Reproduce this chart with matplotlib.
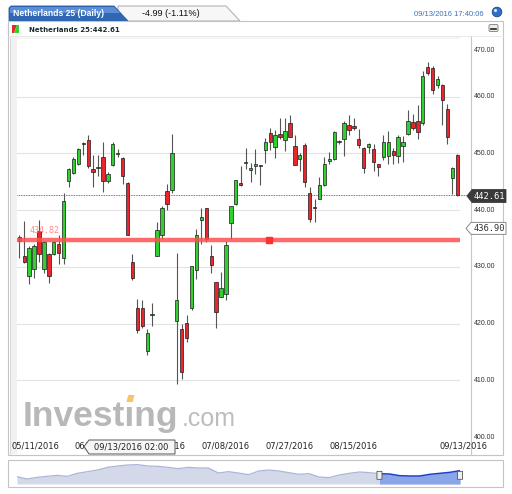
import numpy as np
import pandas as pd
import matplotlib.pyplot as plt
from matplotlib.patches import Polygon, Rectangle, FancyBboxPatch, Circle

# Netherlands 25 daily candles
dates = pd.bdate_range("2016-05-11", "2016-09-13")
opens = [435.3, 432.0, 428.4, 429.7, 436.3, 429.6, 432.2, 432.3, 434.1, 431.6,
         445.1, 446.6, 448.2, 451.7, 452.4, 447.2, 447.4, 449.4, 445.1, 447.9,
         449.9, 449.2, 444.7, 430.8, 422.7, 422.7, 415.1, 421.5, 432.0, 435.7,
         443.3, 443.6, 420.5, 419.1, 420.1, 422.7, 429.5, 438.2, 440.3, 431.9,
         427.3, 424.6, 425.3, 437.8, 441.0, 444.7, 448.3, 447.1, 447.7, 447.8,
         450.6, 453.6, 451.2, 453.5, 452.3, 455.3, 451.3, 449.1, 451.5, 443.1,
         440.6, 442.0, 444.4, 448.6, 449.1, 452.0, 452.6, 455.1, 454.9, 452.6,
         451.0, 451.2, 450.8, 448.1, 449.3, 449.6, 450.4, 449.5, 451.3, 453.5,
         455.5, 455.7, 455.3, 465.2, 465.0, 462.0, 462.0, 457.9, 445.7, 449.8]
highs = [435.6, 438.0, 433.7, 434.0, 438.3, 434.6, 432.5, 434.5, 435.6, 443.0,
         447.5, 449.3, 451.0, 452.0, 453.2, 449.7, 449.8, 452.0, 446.8, 452.0,
         450.7, 449.4, 444.9, 432.2, 424.4, 424.1, 419.0, 423.7, 437.9, 440.7,
         444.6, 453.4, 432.5, 419.9, 421.5, 430.2, 436.6, 440.3, 440.4, 433.9,
         427.4, 429.1, 434.6, 440.8, 445.4, 447.8, 451.0, 448.4, 450.7, 448.0,
         452.8, 454.5, 454.2, 456.3, 456.3, 456.75, 453.3, 450.1, 451.8, 444.1,
         441.9, 445.8, 449.4, 450.3, 453.9, 452.4, 455.7, 456.75, 456.3, 454.3,
         451.2, 451.9, 451.6, 448.2, 453.3, 454.0, 450.9, 453.3, 453.0, 457.7,
         456.9, 458.6, 464.6, 466.1, 465.4, 463.6, 462.3, 458.7, 447.6, 449.9]
lows = [431.5, 430.6, 427.0, 428.1, 430.8, 429.0, 427.1, 432.1, 430.5, 430.5,
        444.1, 446.3, 448.0, 449.8, 447.5, 444.1, 446.0, 443.2, 444.8, 447.8,
        449.3, 444.6, 435.6, 427.6, 418.4, 419.3, 414.4, 419.6, 431.9, 435.0,
        440.0, 443.1, 409.3, 410.2, 416.8, 422.4, 427.8, 434.0, 434.3, 428.9,
        419.3, 424.6, 424.2, 435.0, 440.9, 444.3, 447.2, 445.0, 446.3, 444.4,
        448.4, 450.6, 449.2, 452.5, 450.4, 452.9, 447.9, 446.9, 444.1, 437.9,
        437.9, 441.9, 444.2, 448.1, 448.9, 451.6, 449.6, 453.3, 454.2, 450.9,
        446.5, 450.1, 446.9, 446.0, 448.8, 448.1, 448.1, 448.3, 448.5, 453.2,
        454.2, 452.6, 455.0, 463.8, 460.5, 461.6, 455.1, 451.6, 442.9, 442.5]
closes = [434.6, 430.8, 433.4, 433.7, 432.3, 434.4, 428.3, 434.3, 432.5, 441.6,
          447.2, 449.1, 450.8, 451.9, 447.8, 446.7, 447.6, 445.1, 446.4, 451.6,
          450.1, 446.0, 435.7, 428.1, 418.9, 419.5, 418.4, 421.7, 436.5, 440.3,
          441.1, 450.0, 424.1, 411.5, 417.4, 430.1, 435.7, 438.8, 434.9, 430.3,
          422.1, 426.3, 433.8, 440.8, 445.3, 444.4, 448.4, 447.5, 448.2, 447.7,
          452.1, 452.1, 453.3, 452.9, 453.9, 452.9, 447.9, 449.7, 444.9, 438.5,
          440.3, 444.4, 448.1, 449.1, 453.8, 452.0, 455.4, 454.1, 454.5, 451.5,
          447.5, 451.7, 448.5, 447.6, 452.0, 452.0, 449.8, 452.9, 452.0, 455.8,
          454.4, 453.8, 463.6, 464.1, 461.1, 463.2, 459.5, 452.9, 447.5, 442.61]

last_price = 442.61
line_level = 434.82
line_tag = 436.90
price_ticks = [400, 410, 420, 430, 440, 450, 460, 470]
date_labels = ["05/11/2016", "06/02/2016", "06/21/2016", "07/08/2016",
               "07/27/2016", "08/15/2016", "09/13/2016"]

# navigator thumbnail levels (relative height), left to right
nav_values = [10, 3, 8, 11, 14, 11, 20, 25, 30, 38, 42, 45, 46, 42, 41, 38, 34,
              38, 36, 36, 21, 25, 21, 16, 27, 30, 27, 22, 17, 19, 9, 7, 15, 20,
              24, 22, 19, 18, 13, 12, 12, 17, 20, 23, 28]
nav_selected_from = 36

W, H = 512, 494
def fx(x):
    return x / W
def fy(y):
    return 1 - y / H

fig = plt.figure(figsize=(W / 100, H / 100), dpi=100)
fig.patch.set_facecolor("white")

# ---- background / frame in pixel coordinates
bg = fig.add_axes([0, 0, 1, 1])
bg.set_xlim(0, W)
bg.set_ylim(H, 0)
bg.axis("off")

# tabs
bg.add_patch(Polygon([(118, 21), (118, 6), (226, 6), (240, 21)], closed=True,
                     facecolor="#f7f7f7", edgecolor="#b4b4b4", lw=0.8))
bg.add_patch(Polygon([(9, 21), (9, 8), (11, 6), (114, 6), (128, 21)], closed=True,
                     facecolor="#2f67b5", edgecolor="#2a5a9e", lw=0.6))
bg.add_patch(Polygon([(10, 13), (10, 8), (11, 7), (114, 7), (120, 13)], closed=True,
                     facecolor="#5b8ed4", edgecolor="none"))
bg.text(13, 14, "Netherlands 25 (Daily)", color="white", fontsize=6.2,
        fontweight="bold", family="Liberation Sans", va="center", ha="left")
bg.text(142, 14, "-4.99 (-1.11%)", color="#111111", fontsize=6.6,
        family="Liberation Sans", va="center", ha="left")
bg.text(484, 14, "09/13/2016 17:40:06", color="#3f72b8", fontsize=5.5,
        family="Liberation Sans", va="center", ha="right")
bg.add_patch(Circle((497, 12), 4.8, facecolor="#2f6fc8", edgecolor="#1c4a8c", lw=0.6))
bg.add_patch(Circle((495.5, 10.5), 1.6, facecolor="#cfe0f8", edgecolor="none"))

# main panel
bg.add_patch(Rectangle((8, 21), 495, 434, facecolor="white", edgecolor="#c4c4c4", lw=0.8))
bg.add_patch(Rectangle((10, 36), 7, 418, facecolor="#f1f1f1", edgecolor="none"))
bg.plot([10, 10], [36, 454], color="#d6d6d6", lw=0.6)
bg.add_patch(Rectangle((17, 36), 443, 3, facecolor="#f5f5f5", edgecolor="none"))
bg.plot([471, 471], [36, 455], color="#c8c8c8", lw=0.8)
bg.plot([10, 503], [36, 36], color="#e6e6e6", lw=0.6)

# header row
bg.add_patch(Polygon([(12, 25), (17, 25), (14, 33), (12, 33)], closed=True,
                     facecolor="#e8262b", edgecolor="none"))
bg.add_patch(Polygon([(17, 25), (19, 25), (19, 33), (14, 33)], closed=True,
                     facecolor="#2fd12f", edgecolor="none"))
bg.text(29, 29.5, "Netherlands 25:442.61", color="#1c2b2b", fontsize=5,
        fontweight="bold", family="DejaVu Sans", va="center", ha="left")
bg.add_patch(FancyBboxPatch((489, 24.5), 9, 7, boxstyle="round,pad=0,rounding_size=1.5",
                            facecolor="#ececec", edgecolor="#7a7a7a", lw=0.6))
bg.plot([491, 496], [29.5, 29.5], color="#222222", lw=1.2)

# watermark (dotless i, the dot is the orange accent)
wm_font = dict(fontsize=25.5, fontweight="bold", family="Liberation Sans",
               va="baseline", ha="left")
bg.text(22.5, 426, "Invest\u0131ng", color="#b8b8b8", **wm_font)
bg.text(182, 426, ".com", color="#bdbdbd", fontsize=18,
        family="Liberation Sans", va="baseline", ha="left")
renderer = fig.canvas.get_renderer()
probe = bg.text(22.5, 426, "Invest", alpha=0, **wm_font)
bb = probe.get_window_extent(renderer)
xi = bg.transData.inverted().transform((bb.x1, bb.y0))[0]
probe.remove()
bg.add_patch(Polygon([(xi + 1.5, 402), (xi + 3.5, 395), (xi + 9.5, 395), (xi + 8, 402)],
                     closed=True, facecolor="#f7c46a", edgecolor="none"))

# ---- candles
ax = fig.add_axes([fx(17), fy(437), 443 / W, 397 / H])
ax.set_facecolor("none")
x = np.arange(len(dates))
o = np.array(opens)
c = np.array(closes)
up = c >= o
ax.set_xlim(-0.47, 89.57)
ax.set_ylim(400, 470)
ax.set_yticks(price_ticks[1:-1])
ax.grid(axis="y", color="#e2e2e2", lw=0.8)
ax.tick_params(left=False, bottom=False, labelleft=False, labelbottom=False)
ax.set_xticks([])
for s in ax.spines.values():
    s.set_visible(False)

ax.vlines(x, lows, highs, color="#555555", lw=0.8, zorder=2)
body = np.where(np.abs(c - o) < 0.15, 0.15, c - o)
ax.bar(x[up], body[up], bottom=o[up], width=0.68, color="#2fd12f",
       edgecolor="#1a1a1a", lw=0.5, zorder=3)
ax.bar(x[~up], body[~up], bottom=o[~up], width=0.68, color="#e8262b",
       edgecolor="#1a1a1a", lw=0.5, zorder=3)

# last price dotted line and horizontal red level
ax.plot([0, 454 / 443], [last_price, last_price], transform=ax.get_yaxis_transform(),
        color="#444444", ls=(0, (1, 1)), lw=0.6, clip_on=False, zorder=1)
ax.axhline(line_level, color="#ff5050", lw=3.2, alpha=0.85, zorder=4)
ax.plot([50.8], [line_level], marker="s", ms=4.5, color="#ff3030", zorder=5)
ax.text(2, line_level + 1.6, f"{line_level:.2f}", color="#ff8a8a", fontsize=6,
        family="DejaVu Sans Mono", va="center", ha="left", zorder=5)

# right price axis
for v in price_ticks:
    yv = v if v != 470 else 468.2
    ax.text(1 + 14 / 443, yv, f"{v:.2f}", transform=ax.get_yaxis_transform(),
            fontsize=5, family="Liberation Sans", color="#333333",
            va="center", ha="left")

# date labels
for lab in date_labels:
    i = dates.get_loc(pd.to_datetime(lab, format="%m/%d/%Y"))
    if i == 0:
        fig.text(fx(11), fy(446), lab, fontsize=6, color="#222222", va="center", ha="left")
    elif i == len(dates) - 1:
        fig.text(fx(488), fy(446), lab, fontsize=6, color="#222222", va="center", ha="right")
    else:
        ax.text(i, -0.0227, lab, transform=ax.get_xaxis_transform(), fontsize=6,
                color="#222222", va="center", ha="center")

# ---- navigator
bg.add_patch(Rectangle((8, 460), 495, 27, facecolor="white", edgecolor="#c4c4c4", lw=0.8))
nav = fig.add_axes([fx(17), fy(484), 443 / W, 22 / H])
nav.set_facecolor("#f4f4f4")
nv = np.array(nav_values, dtype=float)
nx = np.arange(len(nv))
nav.set_xlim(0, len(nv) - 1)
nav.set_ylim(-12, 54)
nav.fill_between(nx, -12, nv, color="#d3d9e9", lw=0)
nav.plot(nx[:nav_selected_from + 1], nv[:nav_selected_from + 1], color="#aab5d8", lw=0.9)
sel = nx >= nav_selected_from
nav.fill_between(nx[sel], -12, nv[sel], color="#8aa5e8", lw=0)
nav.plot(nx[sel], nv[sel], color="#1f3fcf", lw=1.1)
nav.axis("off")
for hx in [nav_selected_from, len(nv) - 1]:
    nav.add_patch(FancyBboxPatch((hx - 0.25, 2), 0.5, 24,
                                 boxstyle="round,pad=0,rounding_size=0.2",
                                 facecolor="#f0f0f0", edgecolor="#555555", lw=0.6,
                                 zorder=5, clip_on=False))

# ---- overlay: price tags and tooltip
fg = fig.add_axes([0, 0, 1, 1])
fg.set_xlim(0, W)
fg.set_ylim(H, 0)
fg.axis("off")

y_last = 40.4 + (470 - last_price) * 5.68
fg.add_patch(Polygon([(467, y_last), (472, y_last - 6.5), (506, y_last - 6.5),
                      (506, y_last + 6.5), (472, y_last + 6.5)], closed=True,
                     facecolor="#3a3a3a", edgecolor="#3a3a3a", lw=0.6))
fg.text(489, y_last + 0.3, f"{last_price:.2f}", color="white", fontsize=6.3,
        family="DejaVu Sans Mono", va="center", ha="center")
y_tag = 40.4 + (470 - line_tag) * 5.68
fg.add_patch(Polygon([(466, y_tag), (471, y_tag - 6), (506, y_tag - 6),
                      (506, y_tag + 6), (471, y_tag + 6)], closed=True,
                     facecolor="white", edgecolor="#8a8a8a", lw=0.7))
fg.text(489, y_tag + 0.3, f"{line_tag:.2f}", color="#333333", fontsize=6.3,
        family="DejaVu Sans Mono", va="center", ha="center")

fg.add_patch(Polygon([(84, 446.5), (89, 440), (175, 440), (175, 454), (89, 454)],
                     closed=True, facecolor="#f6f6f6", edgecolor="#555555", lw=0.7))
fg.text(131, 447, "09/13/2016 02:00", fontsize=6, color="#222222",
        va="center", ha="center")

fig.savefig("out.png", dpi=100)
